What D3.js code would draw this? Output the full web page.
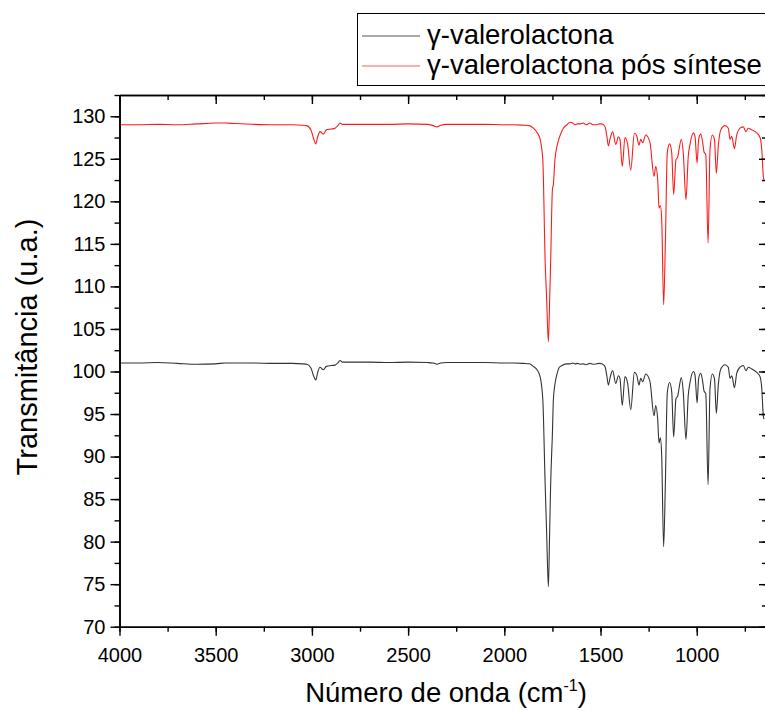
<!DOCTYPE html>
<html>
<head>
<meta charset="utf-8">
<script src="https://cdn.jsdelivr.net/npm/d3@7/dist/d3.min.js"></script>
<style>
  html, body { margin: 0; padding: 0; background: #fff; }
  svg { display: block; font-family: "Liberation Sans", Arial, sans-serif; }
</style>
</head>
<body>
<svg id="chart" width="765" height="711"></svg>
<script>
// ---- data ----
const wavenumber = [4000,3900,3800,3700,3600,3500,3450,3400,3300,3200,3100,3050,3027,3005,2990,2980,2970,2958,2940,2925,2900,2880,2865,2854,2840,2800,2700,2600,2500,2400,2370,2350,2330,2300,2200,2100,2000,1950,1900,1870,1849,1830,1814,1800,1788,1780,1771,1765,1759,1750,1745,1737,1725,1714,1700,1693,1675,1658,1645,1632,1620,1606,1590,1575,1555,1540,1520,1505,1494,1477,1468,1459,1451,1437,1421,1407,1399,1387,1373,1359,1343,1324,1312,1300,1291,1281,1265,1243,1222,1213,1203,1196,1189,1182,1172,1163,1153,1141,1130,1120,1108,1099,1092,1080,1070,1056,1044,1035,1017,1009,998,990,979,969,962,953,941,931,919,908,898,888,875,853,836,827,818,804,792,775,758,744,732,714,688,671,662,654,650];

const gvlValues = [101.0,101.0,101.05,100.95,100.85,100.9,101.0,101.0,101.0,100.95,100.95,100.9,100.85,100.4,99.4,99.0,99.9,100.5,100.2,100.6,100.7,100.75,101.0,101.3,101.1,101.1,101.1,101.05,101.1,101.05,101.0,100.85,101.0,101.05,101.05,101.05,101.0,101.0,100.95,100.9,100.6,100.2,99.4,96.7,86.9,81.0,74.7,80.5,86.9,92.8,96.7,98.5,99.8,100.5,100.7,100.8,100.9,100.9,101.0,100.9,100.95,100.85,100.9,100.8,100.95,100.85,100.9,100.95,100.9,100.6,99.6,98.4,99.2,100.1,98.6,99.5,99.2,96.0,99.4,98.6,95.5,99.9,99.6,98.4,99.2,98.8,99.7,98.8,94.8,96.0,94.4,91.6,92.2,90.0,79.4,86.8,97.5,98.7,97.6,92.3,96.8,97.1,98.0,99.3,97.6,92.0,97.2,98.7,100.0,99.6,96.3,99.2,99.8,98.8,97.7,97.4,86.7,98.0,99.7,99.2,95.1,98.4,100.3,100.8,100.5,99.2,99.5,98.1,99.8,100.5,100.7,100.1,100.5,100.3,99.9,99.4,98.0,94.8,94.4];

const gvlPosValues = [129.0,129.0,129.05,129.0,129.1,129.2,129.2,129.15,129.05,129.0,129.0,128.95,128.9,128.4,127.3,126.75,127.6,128.2,127.9,128.4,128.5,128.6,128.9,129.2,129.05,129.05,129.05,129.05,129.1,129.05,128.9,128.75,128.95,129.05,129.05,129.05,129.0,129.0,128.95,128.9,128.6,128.1,127.3,124.9,113.1,108.5,103.5,107.8,113.1,121.4,122.0,124.9,126.6,127.5,128.3,128.6,129.0,129.3,129.2,129.0,129.1,129.1,129.2,129.0,129.2,129.0,129.0,129.1,129.1,128.8,127.8,126.5,127.3,128.2,126.7,127.6,127.3,124.1,127.5,126.7,123.65,128.0,127.7,126.6,127.3,126.9,127.8,126.9,122.95,124.1,122.6,119.2,119.5,117.9,107.85,115.1,125.7,126.75,125.7,120.8,124.9,125.2,126.1,127.3,125.7,120.2,125.3,126.7,128.05,127.65,124.5,127.3,127.9,126.9,125.8,125.5,115.1,126.1,127.8,127.3,123.3,126.5,128.4,128.9,128.6,127.3,127.65,126.2,127.85,128.6,128.75,128.2,128.6,128.4,128.05,127.5,126.1,122.95,122.5];

const seriesNames = ["γ-valerolactona", "γ-valerolactona pós síntese"];
const seriesColors = ["#333333", "#ff1a1a"];
const legendColors = ["#555555", "#ff5a5a"];
const xTicks = [4000,3500,3000,2500,2000,1500,1000];
const yTicks = [70,75,80,85,90,95,100,105,110,115,120,125,130];

(function () {
  const svg = d3.select("#chart");
  const mL = 119.5, mR = 766, mT = 95, mB = 626.7;

  const x = d3.scaleLinear().domain([4000, 640]).range([mL, mR]);
  const y = d3.scaleLinear().domain([70, 132.5]).range([mB, mT]);

  const series = [gvlValues, gvlPosValues].map((vals, i) => ({
    name: seriesNames[i], color: seriesColors[i], lcolor: legendColors[i],
    points: wavenumber.map((w, j) => [w, vals[j]])
  }));

  svg.append("defs").append("clipPath").attr("id", "clip")
    .append("rect").attr("x", mL).attr("y", mT).attr("width", mR - mL).attr("height", mB - mT);

  const line = d3.line().x(d => x(d[0])).y(d => y(d[1])).curve(d3.curveMonotoneX);

  const g = svg.append("g").attr("clip-path", "url(#clip)");
  series.forEach(s => {
    g.append("path").datum(s.points)
      .attr("fill", "none").attr("stroke", s.color).attr("stroke-width", 1.1)
      .attr("d", line);
  });

  const xMinor = d3.range(4000, 639, -250);
  const yMinor = d3.range(70, 132.6, 2.5);

  function styleAxis(sel) {
    sel.select(".domain").attr("stroke", "#000").attr("stroke-width", 1.6);
    sel.selectAll(".tick line").attr("stroke", "#000").attr("stroke-width", 1.4);
    sel.selectAll(".tick text").attr("fill", "#000").style("font-size", "20px")
       .style("font-family", "'Liberation Sans', Arial, sans-serif");
  }

  // bottom
  svg.append("g").attr("transform", `translate(0,${mB})`)
    .call(d3.axisBottom(x).tickValues(xMinor).tickSize(5).tickFormat("").tickSizeOuter(0))
    .call(styleAxis);
  svg.append("g").attr("transform", `translate(0,${mB})`)
    .call(d3.axisBottom(x).tickValues(xTicks).tickSize(9).tickPadding(12).tickFormat(d3.format("d")).tickSizeOuter(0))
    .call(styleAxis);
  // top
  svg.append("g").attr("transform", `translate(0,${mT})`)
    .call(d3.axisTop(x).tickValues(xMinor).tickSize(-5).tickFormat("").tickSizeOuter(0))
    .call(styleAxis);
  svg.append("g").attr("transform", `translate(0,${mT})`)
    .call(d3.axisTop(x).tickValues(xTicks).tickSize(-9).tickFormat("").tickSizeOuter(0))
    .call(styleAxis);
  // left
  svg.append("g").attr("transform", `translate(${mL},0)`)
    .call(d3.axisLeft(y).tickValues(yMinor).tickSize(5).tickFormat("").tickSizeOuter(0))
    .call(styleAxis);
  svg.append("g").attr("transform", `translate(${mL},0)`)
    .call(d3.axisLeft(y).tickValues(yTicks).tickSize(9).tickPadding(5).tickFormat(d3.format("d")).tickSizeOuter(0))
    .call(styleAxis);
  // right
  svg.append("g").attr("transform", `translate(${mR},0)`)
    .call(d3.axisRight(y).tickValues(yMinor).tickSize(-4).tickFormat("").tickSizeOuter(0))
    .call(styleAxis);
  svg.append("g").attr("transform", `translate(${mR},0)`)
    .call(d3.axisRight(y).tickValues(yTicks).tickSize(-7).tickFormat("").tickSizeOuter(0))
    .call(styleAxis);

  // axis titles
  const xt = svg.append("text").attr("x", 446).attr("y", 702)
    .attr("text-anchor", "middle").style("font-size", "27.5px").attr("fill", "#000");
  xt.append("tspan").text("Número de onda (cm");
  xt.append("tspan").attr("dy", -11).style("font-size", "16px").text("-1");
  xt.append("tspan").attr("dy", 11).text(")");

  svg.append("text").attr("transform", `translate(37,347) rotate(-90)`)
    .attr("text-anchor", "middle").style("font-size", "29px").attr("fill", "#000")
    .text("Transmitância (u.a.)");

  // legend
  const lg = svg.append("g");
  lg.append("rect").attr("x", 357.5).attr("y", 13.5).attr("width", 420).attr("height", 72)
    .attr("fill", "#fff").attr("stroke", "#000").attr("stroke-width", 1);
  series.forEach((s, i) => {
    const yy = 36 + i * 30;
    lg.append("line").attr("x1", 362).attr("x2", 420).attr("y1", yy).attr("y2", yy)
      .attr("stroke", s.lcolor).attr("stroke-width", 1.2);
    lg.append("text").attr("x", 427).attr("y", yy + 8).style("font-size", "27.5px").attr("fill", "#000")
      .text(s.name);
  });
})();
</script>
</body>
</html>
